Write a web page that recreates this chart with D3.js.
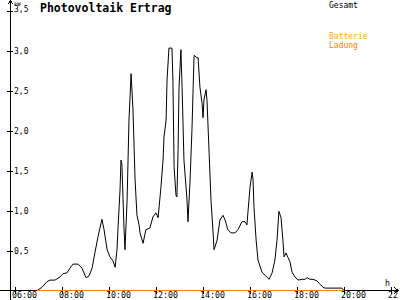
<!DOCTYPE html>
<html>
<head>
<meta charset="utf-8">
<script src="https://cdn.jsdelivr.net/npm/d3@7"></script>
<style>
  body { margin: 0; background: #fff; }
  svg { display: block; }
  text { font-family: 'DejaVu Sans Mono', monospace; }
</style>
</head>
<body>
<svg width="400" height="300"></svg>
<script>
const width = 400;
const height = 300;

// Gesamt (kW)
const gesamtHours = [
  6.94, 7.15, 7.36, 7.49, 7.70, 7.92, 8.04, 8.21, 8.34, 8.47, 8.68, 8.85, 9.02, 9.15, 9.28, 9.40,
  9.53, 9.66, 9.70, 9.79, 9.92, 10.04, 10.17, 10.26, 10.34, 10.38, 10.47, 10.51, 10.55, 10.64, 10.68,
  10.77, 10.85, 10.94, 11.02, 11.11, 11.19, 11.28, 11.32, 11.45, 11.57, 11.74, 11.87, 12.00, 12.09,
  12.21, 12.30, 12.34, 12.43, 12.47, 12.55, 12.68, 12.72, 12.77, 12.85, 12.89, 12.94, 12.98, 13.06,
  13.11, 13.19, 13.32, 13.36, 13.45, 13.53, 13.62, 13.74, 13.79, 13.87, 13.96, 14.00, 14.04, 14.13,
  14.17, 14.26, 14.34, 14.43, 14.47, 14.60, 14.72, 14.85, 14.94, 15.06, 15.19, 15.36, 15.49, 15.66,
  15.79, 15.87, 15.91, 16.00, 16.09, 16.13, 16.17, 16.26, 16.34, 16.51, 16.64, 16.81, 16.94, 17.06,
  17.15, 17.23, 17.32, 17.40, 17.45, 17.53, 17.62, 17.70, 17.79, 17.91, 18.04, 18.21, 18.34, 18.43,
  18.55, 18.68, 18.85, 18.94, 19.11, 19.19, 19.49, 19.70, 19.91, 20.00
];
const gesamtKW = [
  0.00, 0.04, 0.11, 0.13, 0.13, 0.17, 0.21, 0.22, 0.28, 0.33, 0.33, 0.28, 0.16, 0.18, 0.28, 0.47,
  0.67, 0.84, 0.89, 0.76, 0.51, 0.42, 0.37, 0.29, 0.51, 0.76, 1.26, 1.63, 1.57, 0.76, 0.51,
  1.13, 2.13, 2.71, 2.26, 1.38, 0.94, 0.82, 0.72, 0.59, 0.76, 0.78, 0.92, 0.97, 0.91,
  1.29, 1.63, 1.92, 2.13, 2.63, 3.03, 3.03, 2.63, 1.54, 1.19, 1.17, 1.76, 2.54, 3.01,
  2.54, 1.63, 1.13, 0.86, 1.38, 2.01, 2.94, 2.91, 2.91, 2.54, 2.34, 2.16, 2.38, 2.51,
  2.38, 1.72, 1.13, 0.72, 0.51, 0.63, 0.88, 0.94, 0.88, 0.76, 0.72, 0.72, 0.76, 0.86,
  0.86, 0.82, 0.97, 1.29, 1.48, 1.38, 1.04, 0.63, 0.38, 0.23, 0.19, 0.14, 0.22, 0.38,
  0.63, 0.99, 0.91, 0.63, 0.42, 0.47, 0.41, 0.36, 0.23, 0.17, 0.13, 0.14, 0.14, 0.16,
  0.14, 0.14, 0.12, 0.09, 0.04, 0.03, 0.03, 0.03, 0.03, 0.00
];

// Batterie Ladung (kW)
const ladungHours = [6.93, 20.0];
const ladungKW = [0, 0];

const hourTicks = [6, 8, 10, 12, 14, 16, 18, 20, 22];
const kwTicks = [0.5, 1.0, 1.5, 2.0, 2.5, 3.0, 3.5];
const legendLabels = ['Gesamt', 'Batterie', 'Ladung'];
const legendColors = ['#000000', '#ffa800', '#ff8000'];
const legendY = [7.5, 38.5, 47.5];

const x = d3.scaleLinear().domain([6, 22]).range([15, 391]);
const y = d3.scaleLinear().domain([0, 3.5]).range([290.5, 10.5]);

const de = d3.formatLocale({ decimal: ',', thousands: '.', grouping: [3], currency: ['', ' €'] });

const svg = d3.select('svg');

// axis lines with arrows
const axes = svg.append('g').attr('stroke', '#000').attr('shape-rendering', 'crispEdges');
axes.append('line').attr('x1', 0).attr('x2', 398).attr('y1', 290.5).attr('y2', 290.5);
axes.append('line').attr('x1', 10.5).attr('x2', 10.5).attr('y1', 1).attr('y2', 300);
axes.append('path').attr('fill', 'none').attr('d', 'M394.5,287.5 L398,290.5 L394.5,293.5');
axes.append('path').attr('fill', 'none').attr('d', 'M7.5,4.5 L10.5,1 L13.5,4.5');

// x ticks, labels start a bit left of the tick
const xAxis = svg
  .append('g')
  .attr('transform', 'translate(0,287)')
  .call(
    d3.axisBottom(x)
      .tickValues(hourTicks)
      .tickSize(7)
      .tickFormat((h) => d3.format('02d')(h) + ':00')
  );
xAxis.select('.domain').remove();
xAxis.selectAll('line').attr('shape-rendering', 'crispEdges');
xAxis
  .selectAll('text')
  .attr('x', -3.5)
  .attr('y', 11)
  .attr('dy', null)
  .attr('text-anchor', 'start')
  .attr('font-size', 8.3)
  .attr('font-family', "'DejaVu Sans Mono', monospace")
  .attr('fill', '#000');

// y ticks cross the axis; top label sits under "kW"
const yAxis = svg
  .append('g')
  .attr('transform', 'translate(7,0)')
  .call(d3.axisRight(y).tickValues(kwTicks).tickSize(6).tickFormat(de.format('.1f')));
yAxis.select('.domain').remove();
yAxis.selectAll('line').attr('shape-rendering', 'crispEdges');
yAxis
  .selectAll('text')
  .attr('x', 7)
  .attr('dy', (d) => (d === 3.5 ? '0.15em' : '0.32em'))
  .attr('text-anchor', 'start')
  .attr('font-size', 8)
  .attr('font-family', "'DejaVu Sans Mono', monospace")
  .attr('fill', '#000');

svg.append('text').attr('x', 14).attr('y', 5.5).attr('font-size', 5.5).text('kW');
svg.append('text').attr('x', 385).attr('y', 285.5).attr('font-size', 8.3).text('h');

// title
svg
  .append('text')
  .attr('x', 40)
  .attr('y', 11.5)
  .attr('font-size', 11.5)
  .attr('font-weight', 'bold')
  .text('Photovoltaik Ertrag');

// legend
svg
  .append('g')
  .selectAll('text')
  .data(legendLabels)
  .join('text')
  .attr('x', 329)
  .attr('y', (d, i) => legendY[i])
  .attr('font-size', 8)
  .attr('fill', (d, i) => legendColors[i])
  .text((d) => d);

const line = d3
  .line()
  .x((d) => x(d[0]))
  .y((d) => y(d[1]));

// Gesamt curve
svg
  .append('path')
  .datum(gesamtHours.map((h, i) => [h, gesamtKW[i]]))
  .attr('fill', 'none')
  .attr('stroke', legendColors[0])
  .attr('stroke-width', 1)
  .attr('d', line);

// Ladung on top of the x axis
svg
  .append('path')
  .datum(ladungHours.map((h, i) => [h, ladungKW[i]]))
  .attr('fill', 'none')
  .attr('stroke', legendColors[2])
  .attr('stroke-width', 1.2)
  .attr('shape-rendering', 'crispEdges')
  .attr('d', line);
</script>
</body>
</html>
